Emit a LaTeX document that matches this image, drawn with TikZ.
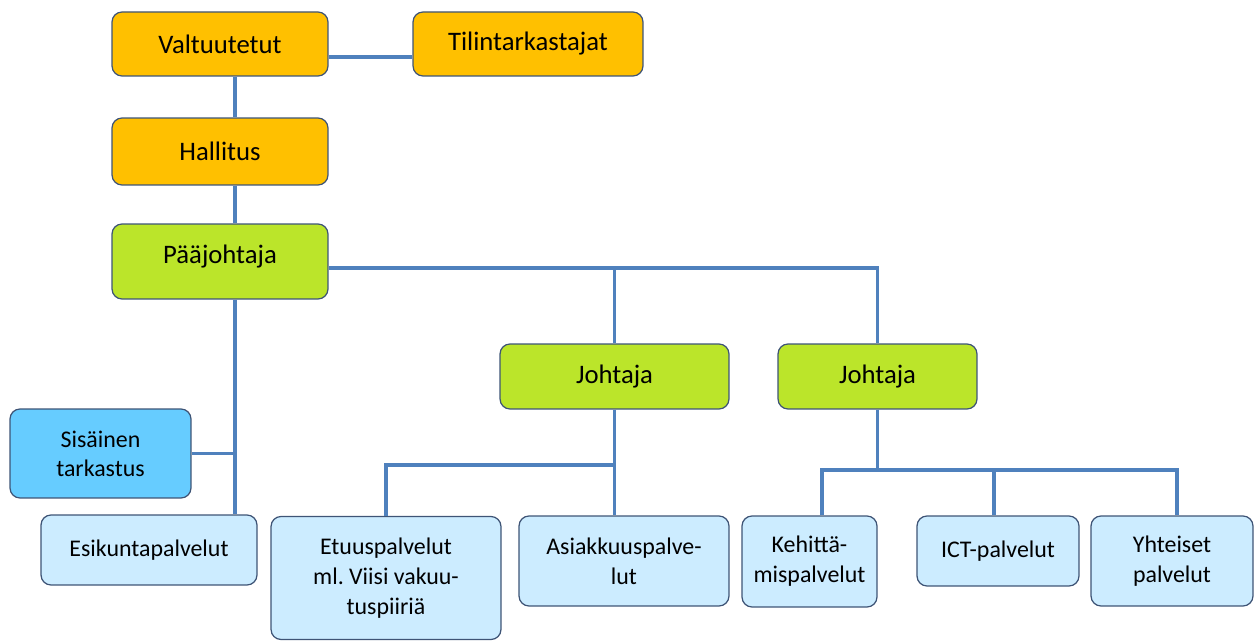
\documentclass[tikz,border=0pt]{standalone}
\usepackage{fontspec}
\setmainfont{Carlito}
\usetikzlibrary{positioning}

\definecolor{boxline}{RGB}{62,84,118}
\definecolor{linkblue}{RGB}{79,129,189}
\definecolor{orgorange}{RGB}{255,192,0}
\definecolor{orggreen}{RGB}{187,229,42}
\definecolor{orgblue}{RGB}{102,204,255}
\definecolor{orglight}{RGB}{204,236,255}

\begin{document}
\begin{tikzpicture}[
		x=0.02cm, y=-0.02cm,
		every node/.style={draw=boxline, line width=0.7pt, rounded corners=0.2cm, align=center, inner sep=2pt},
		top/.style={fill=orgorange, font=\fontsize{15.2}{18}\selectfont},
		boss/.style={fill=orggreen, font=\fontsize{15.2}{18}\selectfont},
		audit/.style={fill=orgblue, font=\fontsize{13.6}{16.5}\selectfont},
		unit/.style={fill=orglight, font=\fontsize{13.6}{17}\selectfont},
		link/.style={draw=linkblue, line width=2.2pt}
		]
		\useasboundingbox (0,0) rectangle (1259,641);
		
		% Nodes
		\node (valt) [top, minimum width=4.32cm, minimum height=1.28cm] at (220,44) {Valtuutetut};
		\node (tili) [top, minimum width=4.6cm, minimum height=1.28cm] at (528,44) {Tilintarkastajat};
		\node (hall) [top, minimum width=4.32cm, minimum height=1.34cm] at (220,151.5) {Hallitus};
		\node (paa) [boss, minimum width=4.32cm, minimum height=1.5cm, text depth=0.3cm] at (220,261.5) {Pääjohtaja};
		\node (joh1) [boss, minimum width=4.58cm, minimum height=1.3cm] at (614.5,376.5) {Johtaja};
		\node (joh2) [boss, minimum width=3.98cm, minimum height=1.3cm] at (877.5,376.5) {Johtaja};
		\node (sis) [audit, minimum width=3.62cm, minimum height=1.78cm] at (100.5,453.5) {Sisäinen\\tarkastus};
		\node (esi) [unit, minimum width=4.32cm, minimum height=1.4cm] at (149,550) {Esikuntapalvelut};
		\node (etu) [unit, minimum width=4.6cm, minimum height=2.46cm] at (386,578) {Etuuspalvelut\\ml.\ Viisi vakuu-\\tuspiiriä};
		\node (asi) [unit, minimum width=4.2cm, minimum height=1.8cm] at (624,561) {Asiakkuuspalve-\\lut};
		\node (keh) [unit, minimum width=2.7cm, minimum height=1.82cm] at (809.5,561.5) {Kehittä-\\mispalvelut};
		\node (ict) [unit, minimum width=3.24cm, minimum height=1.4cm] at (998,551) {ICT-palvelut};
		\node (yht) [unit, minimum width=3.24cm, minimum height=1.8cm] at (1172,561) {Yhteiset\\palvelut};
		
		% Lines
		\draw[link] (valt.east |- 0,57) -- (tili.west |- 0,57);
		\draw[link] (valt.south -| 235,0) -- (hall.north -| 235,0);
		\draw[link] (hall.south -| 235,0) -- (paa.north -| 235,0);
		\draw[link] (paa.south -| 235,0) -- (esi.north -| 235,0);
		\draw[link] (sis.east) -- (sis.east -| 235,0);
		\draw[link] (paa.east |- 0,268) -| (joh2.north);
		\draw[link] (joh1.north |- 0,268) -- (joh1.north);
		\draw[link] (joh1.south) -- (joh1.south |- asi.north);
		\draw[link] (joh1.south |- 0,465) -| (etu.north);
		\draw[link] (joh2.south) -- (joh2.south |- 0,470);
		\draw[link] (keh.north -| 822,0) |- (1177,470) -- (yht.north -| 1177,0);
		\draw[link] (ict.north -| 994,0) -- (994,470);
		
	\end{tikzpicture}
\end{document}
